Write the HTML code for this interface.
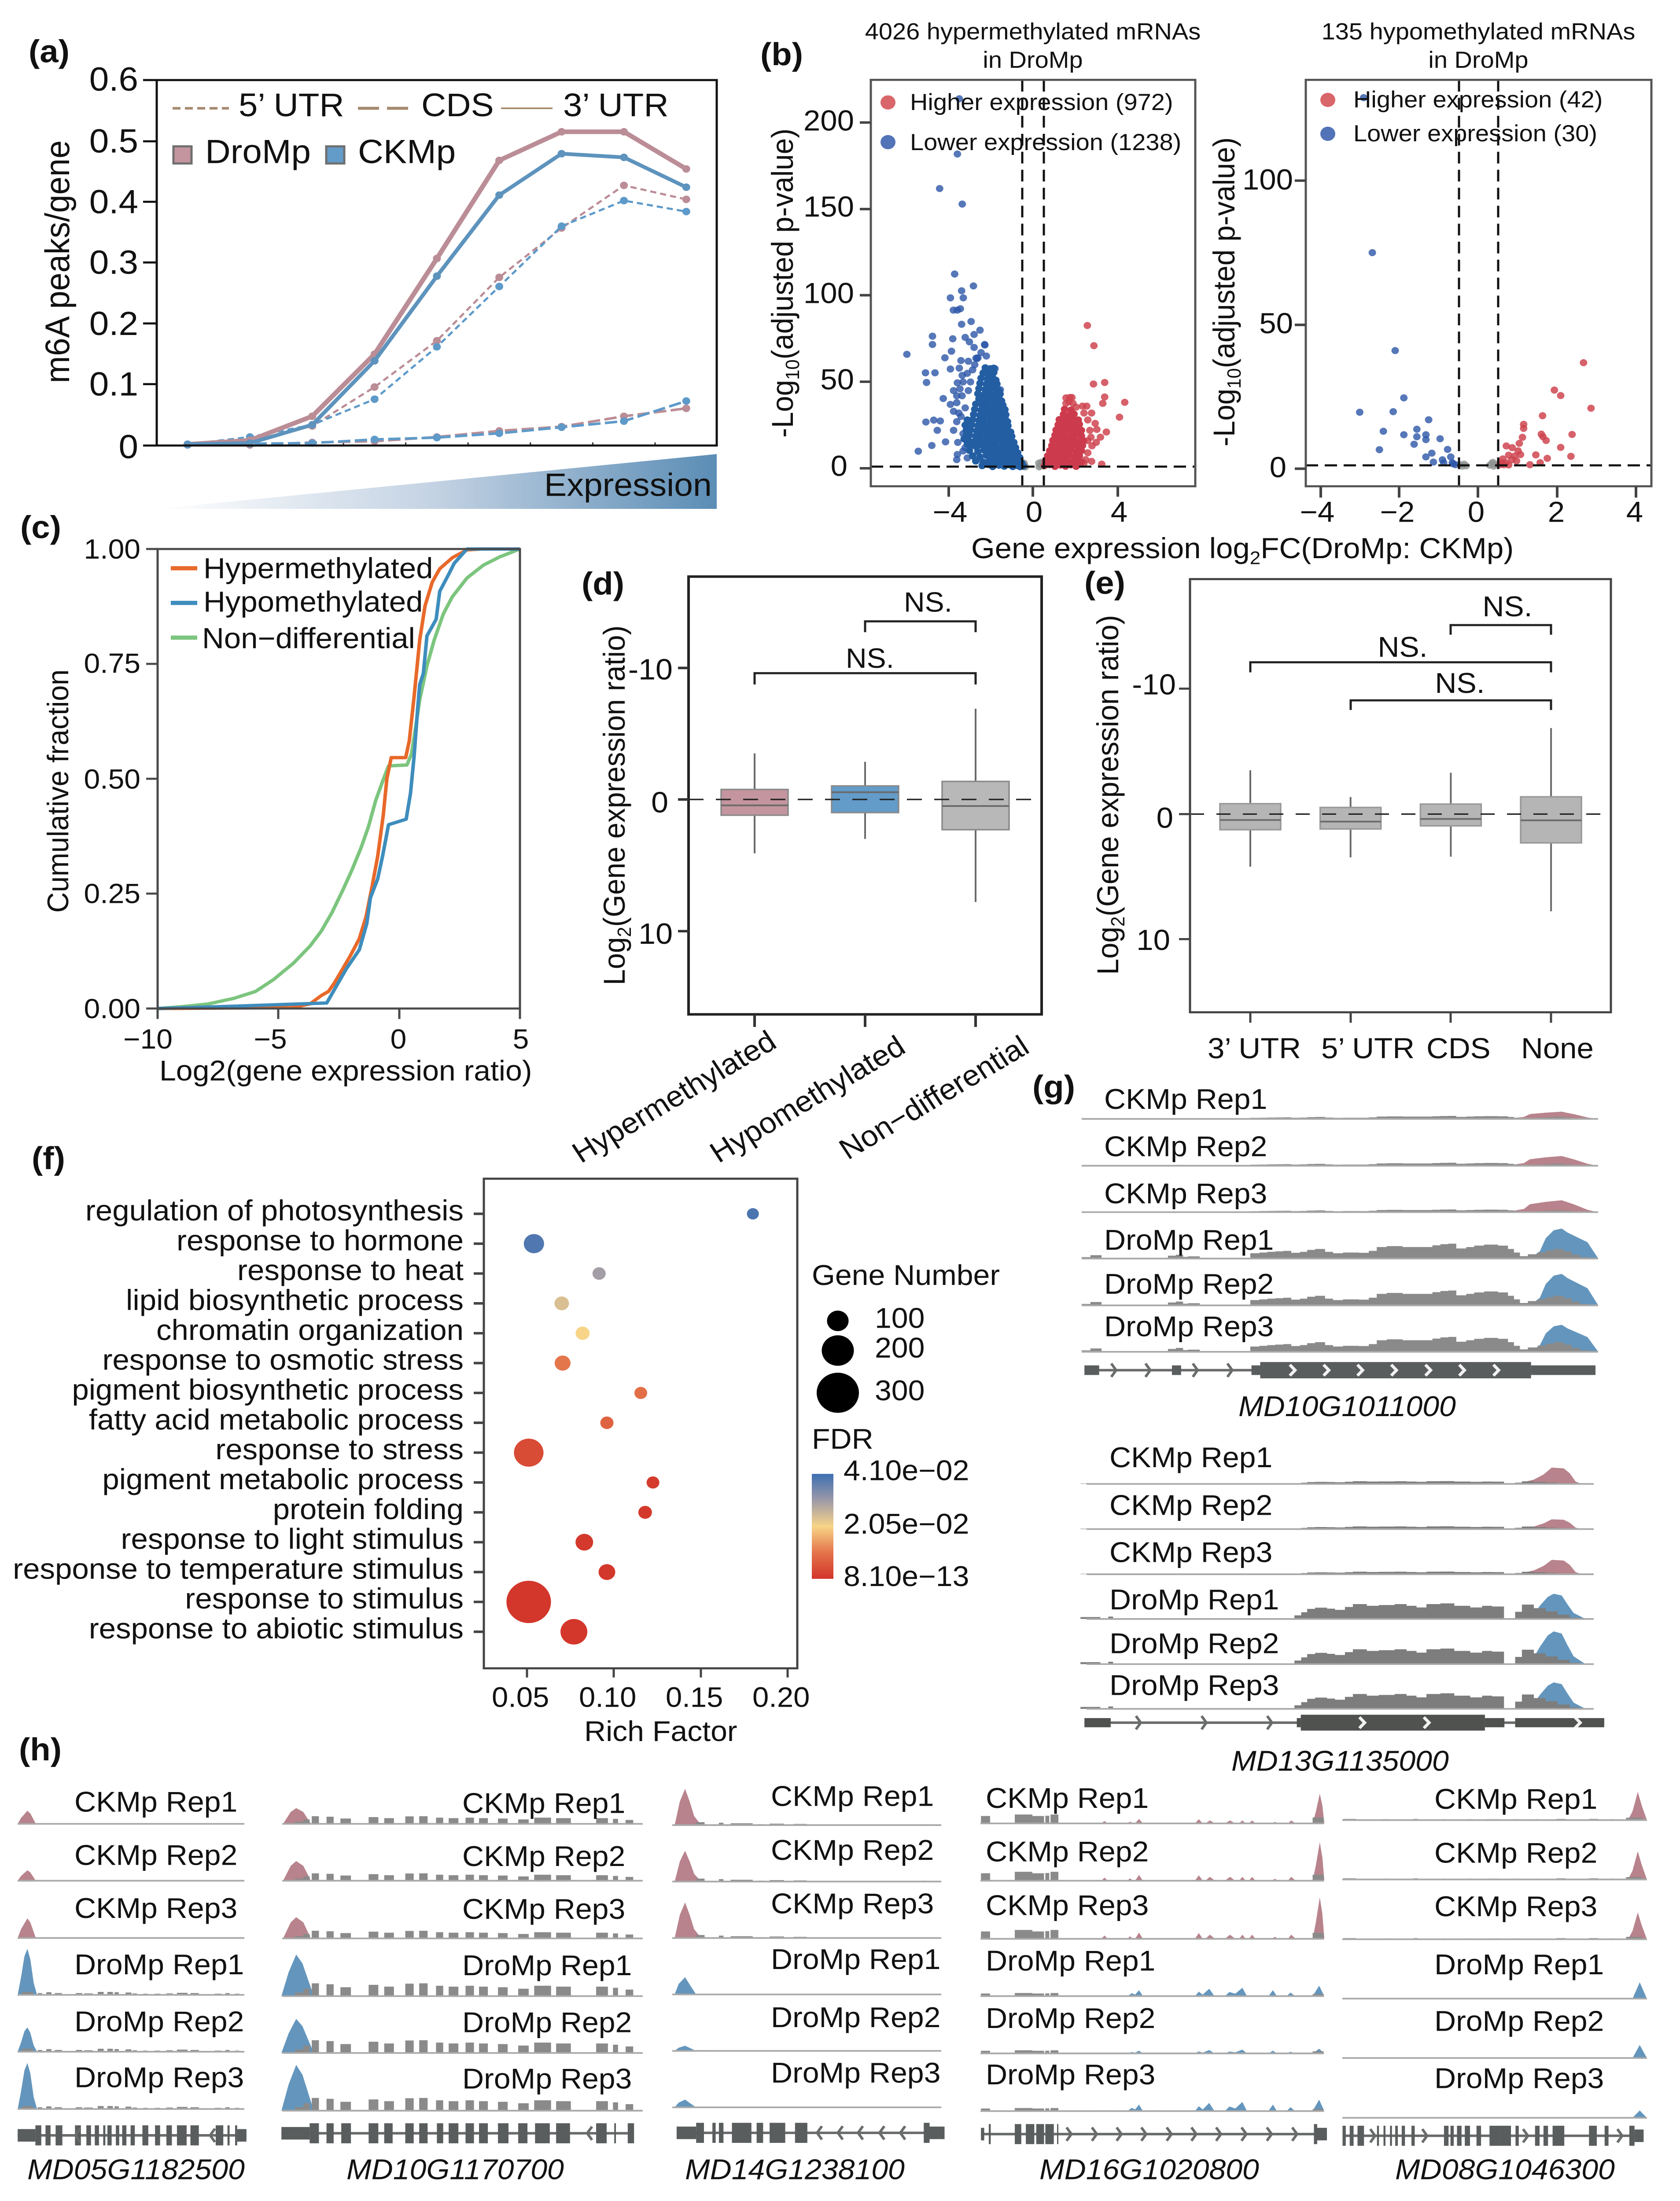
<!DOCTYPE html>
<html lang="en">
<head>
<meta charset="utf-8">
<title>m6A methylation and gene expression figure</title>
<style>
html,body{margin:0;padding:0;background:#fff;width:100%;height:100%;overflow:hidden;}
svg{display:block;position:fixed;left:0;top:0;width:100vw;height:100vh;font-family:"Liberation Sans","Noto Sans CJK SC",sans-serif;fill:#111;}
.l{font-weight:bold;font-size:76px;}
.tk{font-size:69px;}
.tr{font-size:68px;}
.gn{font-size:68px;font-style:italic;}
.nofill{fill:none;}
</style>
</head>
<body>
<svg id="fig" xmlns="http://www.w3.org/2000/svg" viewBox="0 0 3816 5264" preserveAspectRatio="none">
<defs>
<linearGradient id="wedgeGrad" x1="0" x2="1" y1="0" y2="0"><stop offset="0" stop-color="#ffffff"/><stop offset="0.5" stop-color="#c3d2e3"/><stop offset="1" stop-color="#5b8db5"/></linearGradient>
<linearGradient id="fdrGrad" x1="0" x2="0" y1="0" y2="1"><stop offset="0" stop-color="#3d6fb1"/><stop offset="0.25" stop-color="#9c99a8"/><stop offset="0.5" stop-color="#f8d488"/><stop offset="0.75" stop-color="#e4744a"/><stop offset="1" stop-color="#d2352a"/></linearGradient>
</defs>

<!-- PANEL LABELS -->
<text class="l" x="65" y="149">(a)</text>
<text class="l" x="1727" y="156">(b)</text>
<text class="l" x="46" y="1287">(c)</text>
<text class="l" x="1321" y="1422">(d)</text>
<text class="l" x="2463" y="1420">(e)</text>
<text class="l" x="72" y="2796">(f)</text>
<text class="l" x="2345" y="2625">(g)</text>
<text class="l" x="43" y="4210">(h)</text>

<!-- PANEL A -->
<g>
<g id="aMarks"></g>
<rect x="356" y="191.5" width="1272" height="874" class="nofill" stroke="#111" stroke-width="5"/>
<path d="M325 191.5H356M325 338H356M325 482.6H356M325 627.7H356M325 773.6H356M325 918.7H356M325 1065.5H356" stroke="#111" stroke-width="5"/>
<g font-size="80" text-anchor="end">
<text x="314" y="217">0.6</text>
<text x="314" y="365">0.5</text>
<text x="314" y="510">0.4</text>
<text x="314" y="655">0.3</text>
<text x="314" y="801">0.2</text>
<text x="314" y="946">0.1</text>
<text x="314" y="1096">0</text>
</g>
<text font-size="78" text-anchor="middle" transform="translate(157 626) rotate(-90)">m6A peaks/gene</text>
<polygon points="356,1217 1628,1217 1628,1086" fill="url(#wedgeGrad)"/>
<text x="1236" y="1186" font-size="77">Expression</text>
<path d="M392 259H520" stroke="#a58a6e" stroke-width="6" stroke-dasharray="18 10" class="nofill"/>
<text x="542" y="278" font-size="78">5’ UTR</text>
<path d="M813 259H935" stroke="#a58a6e" stroke-width="7" stroke-dasharray="48 18" class="nofill"/>
<text x="957" y="278" font-size="78">CDS</text>
<path d="M1138 259H1255" stroke="#a58a6e" stroke-width="4" class="nofill"/>
<text x="1279" y="278" font-size="78">3’ UTR</text>
<rect x="394" y="350" width="41" height="41" fill="#c4959e" stroke="#6f6f6f" stroke-width="5"/>
<text x="466" y="390" font-size="80">DroMp</text>
<rect x="741" y="350" width="41" height="41" fill="#639bc9" stroke="#6f6f6f" stroke-width="5"/>
<text x="813" y="390" font-size="80">CKMp</text>
</g>

<!-- PANEL B -->
<g>
<g text-anchor="middle" font-size="56">
<text x="2346" y="94">4026 hypermethylated mRNAs</text>
<text x="2346" y="162">in DroMp</text>
<text x="3358" y="94">135 hypomethylated mRNAs</text>
<text x="3358" y="162">in DroMp</text>
</g>
<g id="bLeftMarks"></g>
<g id="bRightMarks"></g>
<g stroke="#111" stroke-width="5" stroke-dasharray="28 15" class="nofill">
<path d="M2322 191V1163"/>
<path d="M2371 191V1163"/>
<path d="M1978 1116H2715"/>
<path d="M3314 191V1163"/>
<path d="M3403 191V1163"/>
<path d="M2966 1113H3751"/>
</g>
<rect x="1978" y="191" width="737" height="972" class="nofill" stroke="#555" stroke-width="5"/>
<rect x="2966" y="191" width="785" height="972" class="nofill" stroke="#555" stroke-width="5"/>
<path d="M1953 293H1978M1953 500H1978M1953 706H1978M1953 913H1978M1953 1120H1978M2155 1163V1188M2346 1163V1188M2539 1163V1188" stroke="#444" stroke-width="6"/>
<path d="M2941 432H2966M2941 777H2966M2941 1121H2966M3000 1163V1190M3178 1163V1190M3357 1163V1190M3537 1163V1190M3716 1163V1190" stroke="#444" stroke-width="6"/>
<g class="tk" text-anchor="end">
<text x="1940" y="312">200</text>
<text x="1940" y="518">150</text>
<text x="1940" y="725">100</text>
<text x="1940" y="931">50</text>
<text x="1925" y="1138">0</text>
</g>
<g class="tk" text-anchor="end">
<text x="2937" y="453">100</text>
<text x="2937" y="797">50</text>
<text x="2922" y="1141">0</text>
</g>
<g class="tk" text-anchor="middle">
<text x="2158" y="1248">−4</text>
<text x="2349" y="1248">0</text>
<text x="2542" y="1248">4</text>
<text x="2992" y="1248">−4</text>
<text x="3174" y="1248">−2</text>
<text x="3353" y="1248">0</text>
<text x="3535" y="1248">2</text>
<text x="3713" y="1248">4</text>
</g>
<text font-size="69" text-anchor="middle" transform="translate(1801 677) rotate(-90)">-Log<tspan font-size="44" dy="14">10</tspan><tspan dy="-14">(adjusted p-value)</tspan></text>
<text font-size="69" text-anchor="middle" transform="translate(2804 698) rotate(-90)">-Log<tspan font-size="44" dy="14">10</tspan><tspan dy="-14">(adjusted p-value)</tspan></text>
<text x="2206" y="1335" font-size="69">Gene expression log<tspan font-size="44" dy="14">2</tspan><tspan dy="-14">FC(DroMp: CKMp)</tspan></text>
<circle cx="2017" cy="245" r="17" fill="#d9666b"/>
<text x="2067" y="263" font-size="56">Higher expression (972)</text>
<circle cx="2017" cy="340" r="17" fill="#5273b7"/>
<text x="2067" y="359" font-size="56">Lower expression (1238)</text>
<circle cx="3016" cy="239" r="17" fill="#d9666b"/>
<text x="3074" y="257" font-size="56">Higher expression (42)</text>
<circle cx="3016" cy="320" r="17" fill="#5273b7"/>
<text x="3074" y="338" font-size="56">Lower expression (30)</text>
</g>

<!-- PANEL C -->
<g>
<g id="cMarks"></g>
<rect x="358" y="1313" width="823" height="1099" class="nofill" stroke="#4a4a4a" stroke-width="5"/>
<path d="M332 1313H358M332 1587.7H358M332 1862.5H358M332 2137.2H358M332 2412H358M358 2412V2437M632 2412V2437M907 2412V2437M1181 2412V2437" stroke="#4a4a4a" stroke-width="5"/>
<g font-size="66" text-anchor="end">
<text x="319" y="1336">1.00</text>
<text x="319" y="1609">0.75</text>
<text x="319" y="1886">0.50</text>
<text x="319" y="2160">0.25</text>
<text x="319" y="2435">0.00</text>
</g>
<g font-size="66" text-anchor="middle">
<text x="336" y="2508">−10</text>
<text x="614" y="2508">−5</text>
<text x="905" y="2508">0</text>
<text x="1183" y="2508">5</text>
</g>
<text x="362" y="2584" font-size="68">Log2(gene expression ratio)</text>
<text font-size="68" text-anchor="middle" transform="translate(155 1892) rotate(-90)">Cumulative fraction</text>
<path d="M388 1359H448" stroke="#e8692a" stroke-width="10"/>
<path d="M388 1442H448" stroke="#3e8dbd" stroke-width="10"/>
<path d="M388 1525H448" stroke="#7cc57e" stroke-width="10"/>
<text x="462" y="1383" font-size="69">Hypermethylated</text>
<text x="462" y="1463" font-size="69">Hypomethylated</text>
<text x="459" y="1550" font-size="69">Non−differential</text>
</g>

<!-- PANEL D -->
<g>
<g id="dMarks"></g>
<path d="M1564 1912H2366" stroke="#222" stroke-width="3.5" stroke-dasharray="34 28" class="nofill"/>
<rect x="1564" y="1379" width="802" height="1047" class="nofill" stroke="#222" stroke-width="6"/>
<path d="M1540 1597.5H1564M1540 1912H1564M1540 2227H1564M1714 2426V2456M1965 2426V2456M2216 2426V2456" stroke="#333" stroke-width="6"/>
<g font-size="70" text-anchor="end">
<text x="1528" y="1625">-10</text>
<text x="1518" y="1943">0</text>
<text x="1528" y="2257">10</text>
</g>
<text font-size="69" text-anchor="middle" transform="translate(1419 1926) rotate(-90)">Log<tspan font-size="44" dy="14">2</tspan><tspan dy="-14">(Gene expression ratio)</tspan></text>
<g fill="none" stroke="#222" stroke-width="5">
<path d="M1714 1637V1610H2216V1637"/>
<path d="M1965 1512V1486H2216V1512"/>
</g>
<text x="1976" y="1597" font-size="66" text-anchor="middle">NS.</text>
<text x="2108" y="1463" font-size="66" text-anchor="middle">NS.</text>
<g font-size="70" text-anchor="end">
<text transform="translate(1768 2503) rotate(-32)">Hypermethylated</text>
<text transform="translate(2061 2515) rotate(-32)">Hypomethylated</text>
<text transform="translate(2342 2515) rotate(-32)">Non−differential</text>
</g>
</g>

<!-- PANEL E -->
<g>
<g id="eMarks"></g>
<path d="M2703 1947H3659" stroke="#222" stroke-width="3.5" stroke-dasharray="32 28" class="nofill"/>
<rect x="2703" y="1385" width="956" height="1036" class="nofill" stroke="#444" stroke-width="5"/>
<path d="M2678 1647H2703M2678 1947H2703M2678 2246H2703M2840 2421V2446M3068 2421V2446M3295 2421V2446M3523 2421V2446" stroke="#444" stroke-width="5"/>
<g font-size="69" text-anchor="end">
<text x="2671" y="1661">-10</text>
<text x="2665" y="1980">0</text>
<text x="2658" y="2272">10</text>
</g>
<text font-size="69" text-anchor="middle" transform="translate(2540 1901) rotate(-90)">Log<tspan font-size="44" dy="14">2</tspan><tspan dy="-14">(Gene expression ratio)</tspan></text>
<g fill="none" stroke="#222" stroke-width="5">
<path d="M2840 1608V1584H3523V1608"/>
<path d="M3068 1698V1675H3523V1698"/>
<path d="M3295 1518V1495H3523V1518"/>
</g>
<text x="3186" y="1571" font-size="68" text-anchor="middle">NS.</text>
<text x="3316" y="1657" font-size="68" text-anchor="middle">NS.</text>
<text x="3424" y="1474" font-size="68" text-anchor="middle">NS.</text>
<g font-size="69">
<text x="2743" y="2531">3’ UTR</text>
<text x="3001" y="2531">5’ UTR</text>
<text x="3240" y="2531">CDS</text>
<text x="3455" y="2531">None</text>
</g>
</g>

<!-- PANEL F -->
<g>
<g id="fMarks"></g>
<rect x="1099" y="2819" width="712" height="1171" class="nofill" stroke="#444" stroke-width="5"/>
<path d="M1197 3990V4012M1394 3990V4012M1592 3990V4012M1789 3990V4012" stroke="#444" stroke-width="5"/>
<g font-size="67">
<text x="1117" y="4082">0.05</text>
<text x="1315" y="4082">0.10</text>
<text x="1512" y="4082">0.15</text>
<text x="1709" y="4082">0.20</text>
</g>
<text x="1327" y="4164" font-size="68">Rich Factor</text>
<text x="1844" y="3073" font-size="68">Gene Number</text>
<circle cx="1903" cy="3159" r="24.5" fill="#000"/>
<circle cx="1903" cy="3230" r="36.5" fill="#000"/>
<circle cx="1903" cy="3331" r="48" fill="#000"/>
<text x="1987" y="3176" font-size="68">100</text>
<text x="1987" y="3247" font-size="68">200</text>
<text x="1987" y="3349" font-size="68">300</text>
<text x="1844" y="3465" font-size="68">FDR</text>
<rect x="1844" y="3525" width="49" height="251" fill="url(#fdrGrad)"/>
<text x="1916" y="3540" font-size="68">4.10e−02</text>
<text x="1916" y="3668" font-size="68">2.05e−02</text>
<text x="1916" y="3793" font-size="68">8.10e−13</text>
</g>

<!-- PANEL G TRACK LABELS -->
<g id="gMarks"></g>
<g class="tr">
<text x="2508" y="2652">CKMp Rep1</text>
<text x="2508" y="2765">CKMp Rep2</text>
<text x="2508" y="2878">CKMp Rep3</text>
<text x="2508" y="2989">DroMp Rep1</text>
<text x="2508" y="3094">DroMp Rep2</text>
<text x="2508" y="3196">DroMp Rep3</text>
<text class="gn" x="2813" y="3387">MD10G1011000</text>
<text x="2520" y="3509">CKMp Rep1</text>
<text x="2520" y="3623">CKMp Rep2</text>
<text x="2520" y="3736">CKMp Rep3</text>
<text x="2520" y="3849">DroMp Rep1</text>
<text x="2520" y="3954">DroMp Rep2</text>
<text x="2520" y="4054">DroMp Rep3</text>
<text class="gn" x="2797" y="4235">MD13G1135000</text>
</g>

<!-- PANEL H TRACK LABELS -->
<g id="hMarks"></g>
<g class="tr">
<text x="169" y="4333">CKMp Rep1</text>
<text x="169" y="4460">CKMp Rep2</text>
<text x="169" y="4587">CKMp Rep3</text>
<text x="169" y="4722">DroMp Rep1</text>
<text x="169" y="4858">DroMp Rep2</text>
<text x="169" y="4992">DroMp Rep3</text>
<text class="gn" x="62" y="5212">MD05G1182500</text>
<text x="1050" y="4336">CKMp Rep1</text>
<text x="1050" y="4463">CKMp Rep2</text>
<text x="1050" y="4589">CKMp Rep3</text>
<text x="1050" y="4724">DroMp Rep1</text>
<text x="1050" y="4860">DroMp Rep2</text>
<text x="1050" y="4995">DroMp Rep3</text>
<text class="gn" x="787" y="5212">MD10G1170700</text>
<text x="1751" y="4319">CKMp Rep1</text>
<text x="1751" y="4448">CKMp Rep2</text>
<text x="1751" y="4576">CKMp Rep3</text>
<text x="1751" y="4709">DroMp Rep1</text>
<text x="1751" y="4848">DroMp Rep2</text>
<text x="1751" y="4981">DroMp Rep3</text>
<text class="gn" x="1556" y="5212">MD14G1238100</text>
<text x="2239" y="4324">CKMp Rep1</text>
<text x="2239" y="4452">CKMp Rep2</text>
<text x="2239" y="4580">CKMp Rep3</text>
<text x="2239" y="4713">DroMp Rep1</text>
<text x="2239" y="4850">DroMp Rep2</text>
<text x="2239" y="4985">DroMp Rep3</text>
<text class="gn" x="2361" y="5212">MD16G1020800</text>
<text x="3258" y="4326">CKMp Rep1</text>
<text x="3258" y="4455">CKMp Rep2</text>
<text x="3258" y="4583">CKMp Rep3</text>
<text x="3258" y="4722">DroMp Rep1</text>
<text x="3258" y="4857">DroMp Rep2</text>
<text x="3258" y="4994">DroMp Rep3</text>
<text class="gn" x="3169" y="5212">MD08G1046300</text>
</g>
</svg>

<script>
/* ===== PANEL A DATA ===== */
const expressionBins = [1,2,3,4,5,6,7,8,9];
const droUtr3 = [.002,.0085,.048,.15,.307,.468,.515,.515,.454];
const ckUtr3  = [.002,.004,.034,.139,.278,.411,.479,.473,.424];
const droUtr5 = [.002,.007,.032,.096,.172,.276,.357,.427,.404];
const ckUtr5  = [.002,.014,.034,.076,.162,.261,.36,.402,.384];
const droCds  = [.001,.001,.005,.007,.014,.024,.031,.048,.061];
const ckCds   = [.001,.003,.004,.01,.013,.02,.03,.04,.073];

/* ===== PANEL B DATA ([log2FC, -log10 p]) ===== */
const hyperLowerSparse = [[-3.48,214],[-3.57,182],[-4.41,162],[-3.34,153],[-3.7,112.5],[-2.81,105.6],[-3.37,102.8],[-3.9,98.7],[-3.29,98.7],[-3.76,91.6],[-3.57,91.6],[-3.43,92.4],[-2.92,85],[-3.37,83.4],[-2.5,80],[-2.78,77.5],[-4.75,76.5],[-4.75,71.7],[-3.79,75],[-3.2,75.8],[-3,73.2],[-2.28,71.7],[-2.78,70],[-3.85,67.8],[-5.96,66],[-4.16,64],[-3.4,62.4],[-2.64,63.5],[-3.9,57.5],[-3.48,58],[-5.08,55.3],[-4.63,55.3],[-5.03,49.7],[-3.57,49.5],[-3.34,53.8],[-4.24,40.4],[-3.9,37],[-3.6,42],[-5.06,26.8],[-4.69,27.9],[-4.38,27.4],[-4.52,22],[-4.13,15.3],[-4.78,13.2],[-5.42,9.9],[-3.57,8],[-3.3,10],[-3.6,5],[-3.4,30],[-3.6,27],[-3.75,22],[-3.3,20],[-3.55,15],[-3.2,12],[-3.75,33],[-3.1,6],[-3.5,32],[-3.6,38],[-3.35,42],[-3.2,35],[-3.05,45],[-2.95,50],[-3.1,55],[-2.85,57],[-2.75,60],[-2.6,64],[-3.05,62],[-3.45,46],[-3.75,45],[-3.3,50],[-2.45,67],[-2.2,65],[-1.75,47],[-1.54,45.5],[-1.79,57.7],[-2.69,63.8],[-2.27,71.4],[-1.6,40]];
const hyperLowerDense = [[-2.4,1.5],[-2.1,2.2],[-1.9,1],[-1.6,1.8],[-1.35,1.2],[-1.15,2.1],[-.95,1],[-.75,1.6],[-.6,.9],[-.45,1.3],[-2.7,4.2],[-2.35,3.6],[-2.05,4.4],[-1.8,3.8],[-1.55,4.5],[-1.3,3.7],[-1.05,4.3],[-.85,3.5],[-.65,4],[-.52,3],[-2.85,7.2],[-2.5,6.6],[-2.2,7.5],[-1.95,6.9],[-1.7,7.4],[-1.45,6.7],[-1.2,7.2],[-1,6.5],[-.8,7],[-.62,6.2],[-3,10.3],[-2.6,9.7],[-2.3,10.5],[-2.05,9.8],[-1.8,10.4],[-1.55,9.6],[-1.3,10.2],[-1.1,9.7],[-.9,10.1],[-.72,9],[-2.95,13.2],[-2.7,12.7],[-2.45,13.5],[-2.2,12.8],[-1.95,13.4],[-1.7,12.6],[-1.45,13.3],[-1.2,12.8],[-1,13.1],[-.82,12],[-3.05,16.2],[-2.75,15.7],[-2.5,16.5],[-2.25,15.8],[-2,16.4],[-1.75,15.6],[-1.5,16.3],[-1.25,15.8],[-1.05,16.1],[-.9,15],[-3,19.2],[-2.7,18.7],[-2.45,19.5],[-2.2,18.8],[-1.95,19.4],[-1.7,18.6],[-1.45,19.3],[-1.2,18.8],[-1,18.5],[-2.95,22.2],[-2.65,21.7],[-2.4,22.5],[-2.15,21.8],[-1.9,22.4],[-1.65,21.6],[-1.4,22.3],[-1.2,21.8],[-1.05,21],[-2.9,25.2],[-2.6,24.7],[-2.35,25.5],[-2.1,24.8],[-1.85,25.4],[-1.6,24.6],[-1.35,25.3],[-1.18,24.6],[-2.85,28.2],[-2.55,27.7],[-2.3,28.5],[-2.05,27.8],[-1.8,28.4],[-1.55,27.6],[-1.3,28.3],[-1.2,27],[-2.8,31.2],[-2.5,30.7],[-2.25,31.5],[-2,30.8],[-1.75,31.4],[-1.5,30.6],[-1.28,31],[-2.75,34.2],[-2.45,33.7],[-2.2,34.5],[-1.95,33.8],[-1.7,34.4],[-1.45,33.6],[-1.32,34],[-2.7,37.2],[-2.4,36.7],[-2.15,37.5],[-1.9,36.8],[-1.65,37.4],[-1.42,36.6],[-2.55,40.2],[-2.35,39.7],[-2.1,40.5],[-1.85,39.8],[-1.6,40.4],[-1.48,39],[-2.6,43.2],[-2.3,42.7],[-2.05,43.5],[-1.8,42.8],[-1.55,43],[-2.55,46.2],[-2.25,45.7],[-2,46.5],[-1.75,45.8],[-1.6,45],[-2.5,49.2],[-2.2,48.7],[-1.95,49.5],[-1.7,48.8],[-2.45,52.2],[-2.15,51.7],[-1.9,52.5],[-1.75,51],[-2.35,55.2],[-2.1,54.7],[-1.85,55.5],[-2.25,58.2],[-2,57.7],[-1.85,58],[-3.2,25],[-3.15,22],[-3.1,28],[-3.25,17],[-3.1,14],[-3.15,19]];
const hyperHigherSparse = [[2.58,82.7],[2.89,71],[2.87,48.8],[3.4,49.7],[3.4,41.3],[3.31,37.6],[4.35,38.2],[4.1,29.6],[3.48,21],[3.03,22.5],[2.95,26],[2.78,32],[2.42,32],[1.85,41],[1.71,38.6],[1.57,37.6],[1.9,37.6],[1.57,40.8],[2.05,35.4],[1.75,41],[3.26,2.4],[2.78,4],[2.42,3],[2.6,28],[2.7,22],[2.6,16],[2.8,13],[2.6,9],[2.5,5],[2.75,18],[3,15],[3.2,18],[2.35,36],[2.55,36]];
const hyperHigherDense = [[.55,1.5],[.8,2.1],[1.05,1.1],[1.3,1.9],[1.55,1.2],[1.8,2],[2.05,1.1],[.6,4.2],[.85,3.7],[1.1,4.4],[1.35,3.8],[1.6,4.5],[1.85,3.7],[2.1,4.2],[2.3,3.6],[.7,7.2],[.95,6.7],[1.2,7.4],[1.45,6.8],[1.7,7.5],[1.95,6.7],[2.2,7.2],[.8,10.2],[1.05,9.7],[1.3,10.4],[1.55,9.8],[1.8,10.5],[2.05,9.7],[2.3,10.2],[.9,13.2],[1.15,12.7],[1.4,13.4],[1.65,12.8],[1.9,13.5],[2.15,12.7],[2.35,13.2],[.95,16.2],[1.2,15.7],[1.45,16.4],[1.7,15.8],[1.95,16.5],[2.2,15.7],[2.4,16],[1.05,19.2],[1.3,18.7],[1.55,19.4],[1.8,18.8],[2.05,19.5],[2.3,18.7],[1.1,22.2],[1.35,21.7],[1.6,22.4],[1.85,21.8],[2.1,22.5],[2.3,22],[1.2,25.2],[1.45,24.7],[1.7,25.4],[1.95,24.8],[2.2,25.5],[1.25,28.2],[1.5,27.7],[1.75,28.4],[2,27.8],[2.15,28],[1.45,31.2],[1.7,30.7],[1.95,31.4],[1.5,34.2],[1.8,33.7]];
const hyperNeutral = [[-.45,1],[-.4,2],[-.35,.8],[-.42,3],[.3,.8],[.35,2],[.42,1.4],[.28,3],[.4,3.5]];
const hypoLower = [[-2.68,75],[-2.1,41],[-1.88,24.6],[-3,19.6],[-2.15,19.8],[-1.25,17],[-2.4,13],[-1.55,13.7],[-1.88,11.8],[-1.55,11.1],[-1.32,11.8],[-1.32,10.1],[-.96,10.4],[-1.62,8.5],[-2.5,6.6],[-.77,6.7],[-1.17,5.4],[-1.32,4.1],[-.69,4.1],[-1.13,2.3],[-.9,3.1],[-.87,2.1],[-.65,2.1],[-.57,1.4],[-.63,1.7],[-2.9,128.8]];
const hypoHigher = [[2.68,36.8],[1.94,27.3],[2.1,25.4],[2.87,21],[1.64,18.4],[1.16,15.4],[1.16,14],[2.39,11.9],[1.61,12],[1.65,11.1],[1.73,9.8],[1.13,10.9],[1.05,8.8],[.72,7.9],[2.1,7.4],[.87,7.3],[1.02,6.2],[1.08,4.9],[1.47,4.8],[1.76,3.6],[2.36,4.3],[1.58,2.1],[1.32,1.4],[.98,2.7],[.78,4.7],[.63,3.4],[.71,2.1],[.78,1.3],[.6,2.1],[.66,1.4],[.86,3.1],[.56,1.4],[.93,4.4]];
const hypoNeutral = [[-.45,1.4],[-.4,.9],[-.35,1.6],[-.3,1],[.3,1.2],[.35,1.8],[.4,.9],[.45,1.5],[.38,2.2]];

/* ===== PANEL C DATA ([ratio, fraction]) ===== */
const cdfNonDifferential = [[-10,0],[-9,.004],[-7.9,.01],[-6.85,.022],[-5.95,.037],[-5.2,.063],[-4.37,.099],[-3.69,.136],[-3.23,.168],[-2.78,.209],[-2.33,.258],[-1.95,.302],[-1.57,.351],[-1.27,.396],[-.97,.453],[-.66,.498],[-.44,.528],[.32,.53],[.51,.554],[.69,.615],[.85,.672],[1.15,.746],[1.45,.802],[1.83,.859],[2.2,.896],[2.81,.937],[3.49,.965],[4.17,.983],[5,1]];
const cdfHyper = [[-10,0],[-4.44,.002],[-3.69,.01],[-3.23,.028],[-2.93,.037],[-2.7,.054],[-2.33,.087],[-2.02,.115],[-1.65,.152],[-1.37,.2],[-1.12,.266],[-.89,.331],[-.66,.42],[-.51,.5],[-.33,.546],[.27,.546],[.42,.583],[.62,.68],[.85,.802],[1.07,.876],[1.37,.928],[1.68,.957],[2.2,.981],[2.81,.998],[3.41,1],[5,1]];
const cdfHypo = [[-10,0],[-7.46,.004],[-3,.012],[-2.63,.046],[-2.18,.087],[-1.65,.128],[-1.34,.185],[-1.19,.241],[-.89,.282],[-.69,.331],[-.44,.4],[.29,.412],[.47,.469],[.62,.55],[.77,.656],[.85,.705],[1,.729],[1.15,.811],[1.53,.847],[1.68,.908],[2.05,.945],[2.28,.969],[2.81,1],[5,1]];

/* ===== PANEL D / E DATA ===== */
const dWhiskerTop = [-3.5,-2.86,-6.9];
const dBoxTop     = [-.76,-1.03,-1.37];
const dMedian     = [.45,-.55,.5];
const dBoxBottom  = [1.2,1,2.3];
const dWhiskerBot = [4.1,3,7.8];
const eWhiskerTop = [-3.5,-1.36,-3.3,-6.87];
const eBoxTop     = [-.83,-.53,-.8,-1.38];
const eMedian     = [.47,.6,.39,.5];
const eBoxBottom  = [1.25,1.19,.94,2.3];
const eWhiskerBot = [4.2,3.46,3.4,7.76];

/* ===== PANEL F DATA ===== */
const goTerms = ['regulation of photosynthesis','response to hormone','response to heat','lipid biosynthetic process','chromatin organization','response to osmotic stress','pigment biosynthetic process','fatty acid metabolic process','response to stress','pigment metabolic process','protein folding','response to light stimulus','response to temperature stimulus','response to stimulus','response to abiotic stimulus'];
const richFactor = [.180,.054,.0915,.070,.082,.0705,.1155,.096,.051,.1225,.118,.083,.096,.051,.077];
const geneNumber = [5,85,17,30,25,43,13,17,175,13,21,60,51,320,149];
const fdrValue = [.0395,.039,.030,.024,.0205,.0105,.0095,.0075,.0035,.001,.0008,.0006,.0005,.0003,.0004];

/* ===== GENE TRACK DATA (genome position units, coverage units) ===== */
const g1Input = [[63,85,6],[85,113,14],[280,300,12],[300,318,16],[318,330,7],[330,360,9],[360,380,3],[487,510,22],[510,530,25],[530,550,28],[550,570,30],[570,590,32],[590,612,24],[612,630,28],[630,650,36],[650,675,40],[675,695,28],[695,720,22],[720,760,25],[760,785,24],[785,805,32],[805,830,48],[830,870,52],[870,910,48],[910,945,48],[945,965,55],[965,985,60],[985,1005,62],[1005,1030,42],[1030,1050,48],[1050,1075,54],[1075,1110,58],[1110,1135,54],[1135,1150,40],[1150,1165,25],[1165,1185,10],[1185,1210,18],[1210,1230,26],[1230,1250,34],[1250,1275,40],[1275,1295,30],[1295,1315,16],[1315,1340,6]];
const g1CkPeak = [[1130,0],[1175,8],[1190,20],[1230,26],[1270,30],[1300,20],[1335,6],[1360,0]];
const g1DroPeak = [[1165,0],[1200,12],[1215,30],[1230,85],[1250,118],[1270,125],[1285,108],[1310,88],[1335,68],[1350,30],[1362,0]];
const g1InputScale = [.2,.2,.18,1,1,1];
const g1PeakScale = [1,1.35,1.65,1,1.05,.9];
const g1Utr = [[70,107],[290,313],[490,512],[1193,1355]];
const g1Cds = [[512,1193]];
const g1Arrows = [143,229,348,435];
const g1Chevrons = [593,678,763,848,934,1019,1105];

const g2Input = [[60,110,8],[130,142,10],[598,615,15],[615,630,28],[630,650,42],[650,680,47],[680,700,43],[700,725,38],[725,745,50],[745,780,62],[780,810,55],[810,850,58],[850,880,62],[880,905,55],[905,930,48],[930,965,62],[965,1000,65],[1000,1040,55],[1040,1070,48],[1070,1095,55],[1095,1125,52],[1153,1170,30],[1170,1200,60],[1200,1230,45],[1230,1260,32],[1260,1290,18],[1290,1315,6]];
const g2CkPeak = [[1155,0],[1200,18],[1225,40],[1245,68],[1275,65],[1290,45],[1305,10],[1320,0]];
const g2DroPeak = [[1190,0],[1215,55],[1235,92],[1250,105],[1270,98],[1285,60],[1300,25],[1330,0]];
const g2InputScale = [.18,.18,.17,1,1,1];
const g2PeakScale = [1,.6,.88,1,1.3,1.05];
const g2Utr = [[70,136],[604,614],[1077,1126],[1153,1377]];
const g2Cds = [[614,1077]];
const g2Arrows = [205,370,535];
const g2Chevrons = [768,930,1310];

const h1Input = [[52,78,10],[90,100,6],[110,122,9],[130,147,6],[180,195,6],[200,220,5],[232,246,10],[255,268,10],[272,282,9],[298,312,8],[315,325,5],[340,350,4],[368,380,4],[395,410,5],[420,445,7],[452,472,6],[510,525,4],[535,545,6],[558,568,4]];
const h1CkPeak = [[42,0],[50,20],[65,44],[72,35],[85,0]];
const h1DroPeak = [[42,0],[50,60],[58,130],[65,155],[72,120],[80,40],[88,0]];
const h1InputScale = [.12,.12,.12,1,1,1];
const h1PeakScale = [1,.8,1.5,1,.53,1];
const h1Utr = [[42,84],[563,585]];
const h1Cds = [[84,98],[108,120],[132,148],[178,192],[205,216],[225,235],[245,250],[255,265],[275,283],[290,300],[310,320],[338,352],[368,380],[395,408],[420,443],[452,472],[512,530],[540,545],[558,563]];
const h1Arrows = [185,505];

const h2Input = [[700,720,12],[720,735,25],[740,757,43],[775,792,40],[808,833,30],[875,898,38],[912,935,32],[962,982,42],[995,1015,43],[1035,1052,35],[1065,1088,32],[1105,1125,35],[1137,1158,32],[1182,1205,30],[1230,1255,25],[1268,1308,35],[1320,1355,32],[1415,1443,32],[1455,1467,28],[1485,1503,22]];
const h2CkPeak = [[672,0],[690,40],[703,53],[720,40],[738,0]];
const h2DroPeak = [[668,0],[685,80],[703,140],[718,110],[735,40],[745,0]];
const h2InputScale = [.6,.58,.6,1,1,1];
const h2PeakScale = [1,1.25,1.35,1,.82,1.1];
const h2Utr = [[668,735]];
const h2Cds = [[735,757],[775,792],[810,833],[875,898],[912,932],[962,982],[995,1015],[1037,1052],[1065,1088],[1105,1125],[1137,1158],[1182,1207],[1230,1252],[1270,1305],[1320,1353],[1415,1440],[1458,1462],[1490,1505]];
const h2Arrows = [1400];

const h3Input = [[55,68,10],[90,97,8],[108,142,6],[150,158,3],[168,190,5],[205,225,4],[405,408,3]];
const h3CkPeak = [[22,0],[30,80],[38,122],[45,80],[52,30],[60,8],[65,0]];
const h3DroPeak = [[22,0],[28,35],[38,58],[46,30],[55,0]];
const h3InputScale = [1,1,1,.25,.25,.25];
const h3PeakScale = [1,.85,.98,1,.3,.45];
const h3Utr = [[25,55],[414,437]];
const h3Cds = [[55,67],[80,85],[90,97],[110,140],[148,158],[168,192],[207,226],[405,414]];
const h3Arrows = [245,277,308,341,373];

const h4Input = [[493,507,25],[545,555,30],[555,572,30],[572,590,25],[592,598,26],[600,612,30],[1003,1020,20]];
const h4CkPeak = [[678,0],[683,8],[688,0],[718,0],[722,6],[727,0],[730,0],[736,15],[742,0],[822,0],[828,14],[834,0],[838,0],[845,10],[853,0],[868,0],[876,10],[884,0],[890,0],[895,10],[900,0],[905,0],[910,10],[915,0],[940,0],[945,5],[950,0],[965,0],[970,10],[977,0],[1003,0],[1008,40],[1014,100],[1018,60],[1021,0]];
const h4DroPeak = [[678,0],[683,3],[688,0],[718,0],[725,10],[730,5],[736,20],[742,0],[758,0],[763,3],[768,0],[822,0],[828,15],[834,5],[844,25],[852,0],[868,0],[875,14],[884,8],[895,28],[902,0],[935,0],[942,20],[948,0],[963,0],[969,12],[976,0],[985,0],[990,3],[995,0],[1003,0],[1013,35],[1021,0]];
const h4InputScale = [1,1,1,.35,.35,.35];
const h4PeakScale = [1,1.3,1.4,1,.45,1.1];
const h4Utr = [[1007,1025],[493,498]];
const h4Cds = [[505,508],[545,555],[562,575],[578,590],[592,605],[610,612],[1005,1010]];
const h4Arrows = [628,667,705,743,782,820,858,897,936,975];

const h5Input = [[1050,1070,4],[1110,1122,3],[1158,1165,4],[1203,1207,3],[1240,1250,3],[1270,1290,3],[1310,1320,3],[1345,1350,3],[1378,1392,4],[1428,1442,4],[1460,1465,3],[1485,1510,8]];
const h5CkPeak = [[1488,0],[1495,30],[1503,95],[1509,50],[1517,0]];
const h5DroPeak = [[1495,0],[1500,25],[1506,55],[1511,30],[1517,0]];
const h5InputScale = [1,1,1,.3,.3,.3];
const h5PeakScale = [1,1,.95,1,.8,.45];
const h5Utr = [[1498,1512]];
const h5Cds = [[1049,1054],[1060,1066],[1072,1082],[1102,1105],[1112,1115],[1122,1125],[1130,1134],[1140,1145],[1155,1160],[1205,1212],[1215,1220],[1225,1232],[1237,1245],[1255,1262],[1275,1290],[1290,1308],[1315,1320],[1345,1352],[1358,1365],[1372,1390],[1428,1440],[1452,1458],[1490,1498]];
const h5Arrows = [1095,1175,1330,1475];

/* ===== DRAWING ===== */
const NS = 'http://www.w3.org/2000/svg';
function mk(parent, tag, attrs, text){
  const node = document.createElementNS(NS, tag);
  for (const k in attrs) node.setAttribute(k, attrs[k]);
  if (text !== undefined) node.textContent = text;
  parent.appendChild(node);
  return node;
}
const byId = id => document.getElementById(id);

/* Panel A */
const xA = b => 426 + (b - 1) * 141.6;
const yA = v => 1065.5 - v * 1457;
const aSeries = [droCds, ckCds, droUtr5, ckUtr5, droUtr3, ckUtr3];
const aColors = ['#bb8d96','#5d9ac9','#bb8d96','#5d9ac9','#bb8d96','#5d93bd'];
const aWidths = [6,6,5,5,11,9];
const aDashes = ['28 10','28 10','14 9','14 9','none','none'];
const aRadii = [9,9,9,9,9,9];
for (let k = 0; k < 8; k++) {
  const minor = mk(byId('aMarks'), 'path', {d:`M${xA(k + 1.5)} 1065V1058`, stroke:'#333', 'stroke-width':3});
  
  
}
aSeries.forEach((vals, s) => {
  const pts = vals.map((v, i) => `${xA(expressionBins[i])},${yA(v)}`).join(' ');
  const line = mk(byId('aMarks'), 'polyline', {points:pts, fill:'none', stroke:aColors[s], 'stroke-width':aWidths[s], 'stroke-dasharray':aDashes[s], 'stroke-linejoin':'round'});
  
  
  vals.forEach((v, i) => {
    const dot = mk(byId('aMarks'), 'circle', {cx:xA(expressionBins[i]), cy:yA(v), r:aRadii[s], fill:aColors[s]});
    
    
  });
});

/* Panel B */
const xBL = v => 2346 + 48 * v;
const yBL = v => 1120 - 4.13 * v;
const xBR = v => 3357 + 89.5 * v;
const yBR = v => 1121 - 6.89 * v;
function volcano(host, pts, xf, yf, fill, op){
  pts.forEach(p => {
    const dot = mk(host, 'circle', {cx:xf(p[0]), cy:yf(p[1]), r:8.5, fill:fill, 'fill-opacity':op});
    
    
  });
}
volcano(byId('bLeftMarks'), hyperNeutral, xBL, yBL, '#8f9492', .8);
volcano(byId('bLeftMarks'), hyperLowerSparse, xBL, yBL, '#2c56a8', .8);
volcano(byId('bLeftMarks'), hyperLowerDense, xBL, yBL, '#235ea3', 1);
volcano(byId('bLeftMarks'), hyperHigherSparse, xBL, yBL, '#cf4550', .85);
volcano(byId('bLeftMarks'), hyperHigherDense, xBL, yBL, '#cc3b4d', 1);
volcano(byId('bRightMarks'), hypoNeutral, xBR, yBR, '#8f9492', .8);
volcano(byId('bRightMarks'), hypoLower, xBR, yBR, '#2c56a8', .8);
volcano(byId('bRightMarks'), hypoHigher, xBR, yBR, '#cf4550', .85);

/* Panel C */
const xC = v => 358 + (v + 10) * 54.87;
const yC = v => 2412 - v * 1099;
const cSeries = [cdfNonDifferential, cdfHyper, cdfHypo];
const cColors = ['#7cc57e','#e8692a','#3e8dbd'];
cSeries.forEach((pts, s) => {
  const curve = mk(byId('cMarks'), 'polyline', {points:pts.map(p => `${xC(p[0])},${yC(p[1])}`).join(' '), fill:'none', stroke:cColors[s], 'stroke-width':8, 'stroke-linejoin':'round'});
  
  
});

/* Panels D + E */
function boxes(host, xf, yf, halfW, wt, bt, med, bb, wb, fills, strokeCol){
  med.forEach((m, i) => {
    const cx = xf(i);
    const whisker = mk(host, 'path', {d:`M${cx} ${yf(wt[i])}V${yf(wb[i])}`, stroke:'#6a6a6a', 'stroke-width':4});
    
    
    const box = mk(host, 'rect', {x:cx - halfW, y:yf(bt[i]), width:halfW * 2, height:yf(bb[i]) - yf(bt[i]), fill:fills[i], stroke:strokeCol, 'stroke-width':3.5});
    
    
    const medLine = mk(host, 'path', {d:`M${cx - halfW} ${yf(m)}H${cx + halfW}`, stroke:'#6a6a6a', 'stroke-width':4});
    
    
  });
}
const xD = i => 1714 + 251 * i;
const yD = v => 1912 + v * 31.45;
boxes(byId('dMarks'), xD, yD, 76, dWhiskerTop, dBoxTop, dMedian, dBoxBottom, dWhiskerBot, ['#c4959e','#639bc9','#b8b8b8'], '#8a8a8a');
const xE = i => 2840 + 227.7 * i;
const yE = v => 1947 + v * 29.95;
boxes(byId('eMarks'), xE, yE, 69, eWhiskerTop, eBoxTop, eMedian, eBoxBottom, eWhiskerBot, ['#b5b5b5','#b5b5b5','#b5b5b5','#b5b5b5'], '#999');

/* Panel F */
const xF = v => 1197 + (v - .05) * 3947;
const yF = i => 2903 + i * 71.4;
const diaF = n => 26 + .235 * n;
const fdrStops = [[210,53,42],[228,116,74],[248,212,136],[156,153,168],[61,111,177]];
function fdrColor(v){
  const t = Math.min(1, v / .041) * 4;
  const k = Math.min(3, Math.floor(t));
  const f = t - k;
  const c = [0,1,2].map(j => Math.round(fdrStops[k][j] + (fdrStops[k + 1][j] - fdrStops[k][j]) * f));
  return `rgb(${c.join(',')})`;
}
goTerms.forEach((term, i) => {
  const label = mk(byId('fMarks'), 'text', {x:1053, y:yF(i) + 16, 'text-anchor':'end', 'font-size':69}, term);
  
  
  const tick = mk(byId('fMarks'), 'path', {d:`M1076 ${yF(i)}H1099`, stroke:'#444', 'stroke-width':6});
  
  
  const bubble = mk(byId('fMarks'), 'circle', {cx:xF(richFactor[i]), cy:yF(i), r:diaF(geneNumber[i]) / 2, fill:fdrColor(fdrValue[i])});
  
  
});

/* Gene tracks */
function drawTracks(host, xf, yUnit, baselines, xa, xb, input, inputScale, ckPeak, droPeak, peakScale, greyFill){
  baselines.forEach((base, r) => {
    const peak = r < 3 ? ckPeak : droPeak;
    const peakPoints = peak.map(p => `${xf(p[0])},${base - p[1] * peakScale[r] * yUnit}`).join(' ');
    const peakEl = mk(host, 'polygon', {points:peakPoints, fill:r < 3 ? '#b8838c' : '#6496bd'});
    
    
    const d = input.map(b => `M${xf(b[0])} ${base}V${base - b[2] * inputScale[r] * yUnit}H${xf(b[1])}V${base}Z`).join('');
    const inputEl = mk(host, 'path', {d:d, fill:greyFill});
    
    
    const line = mk(host, 'path', {d:`M${xa} ${base}H${xb}`, stroke:'#a9a9a9', 'stroke-width':4});
    
    
  });
}
function drawGene(host, xf, yc, utr, cds, arrows, chevrons, hU, hC, dirs, col){
  const all = utr.concat(cds);
  const lo = Math.min(...all.map(e => e[0]));
  const hi = Math.max(...all.map(e => e[1]));
  const intron = mk(host, 'path', {d:`M${xf(lo)} ${yc}H${xf(hi)}`, stroke:'#6a6c6c', 'stroke-width':6});
  
  
  utr.forEach(e => {
    const exon = mk(host, 'rect', {x:xf(e[0]), y:yc - hU / 2, width:xf(e[1]) - xf(e[0]), height:hU, fill:col});
    
    
  });
  cds.forEach(e => {
    const exon = mk(host, 'rect', {x:xf(e[0]), y:yc - hC / 2, width:xf(e[1]) - xf(e[0]), height:hC, fill:col});
    
    
  });
  arrows.forEach(a => {
    const arrow = mk(host, 'path', {d:`M${xf(a) - 5 * dirs} ${yc - 16}L${xf(a) + 6 * dirs} ${yc}L${xf(a) - 5 * dirs} ${yc + 16}`, fill:'none', stroke:'#6a6c6c', 'stroke-width':6});
    
    
  });
  chevrons.forEach(a => {
    const chev = mk(host, 'path', {d:`M${xf(a) - 6} ${yc - 13}L${xf(a) + 6} ${yc}L${xf(a) - 6} ${yc + 13}`, fill:'none', stroke:'#f2f2f2', 'stroke-width':7});
    
    
  });
}
const xG = z => 2400 + z / 1.107;
const xH1 = z => z / 1.045;
const xH2 = z => 1500 + z / .677;
const GY = 1 / 1.742;
const HY = 1 / 1.4075;
drawTracks(byId('gMarks'), xG, GY, [2676,2788,2899,3010,3122,3233], 2457, 3630, g1Input, g1InputScale, g1CkPeak, g1DroPeak, g1PeakScale, '#8a8a8a');
drawGene(byId('gMarks'), xG, 3277, g1Utr, g1Cds, g1Arrows, g1Chevrons, 23, 39, 1, '#5a5d5e');
drawTracks(byId('gMarks'), xG, GY, [3549,3657,3765,3872,3980,4087], 2468, 3620, g2Input, g2InputScale, g2CkPeak, g2DroPeak, g2PeakScale, '#7d7d7d');
drawGene(byId('gMarks'), xG, 4120, g2Utr, g2Cds, g2Arrows, g2Chevrons, 22, 38, 1, '#50524f');
drawTracks(byId('hMarks'), xH1, HY, [4362,4498,4635,4771,4907,5044], 40, 555, h1Input, h1InputScale, h1CkPeak, h1DroPeak, h1PeakScale, '#8a8a8a');
drawGene(byId('hMarks'), xH1, 5107, h1Utr, h1Cds, h1Arrows, [], 30, 48, -1, '#5a5d5e');
drawTracks(byId('hMarks'), xH1, HY, [4362,4498,4636,4774,4910,5048], 641, 1460, h2Input, h2InputScale, h2CkPeak, h2DroPeak, h2PeakScale, '#8a8a8a');
drawGene(byId('hMarks'), xH1, 5102, h2Utr, h2Cds, h2Arrows, [], 30, 48, -1, '#5a5d5e');
drawTracks(byId('hMarks'), xH2, HY, [4365,4500,4635,4770,4905,5040], 1527, 2138, h3Input, h3InputScale, h3CkPeak, h3DroPeak, h3PeakScale, '#8a8a8a');
drawGene(byId('hMarks'), xH2, 5101, h3Utr, h3Cds, h3Arrows, [], 30, 48, -1, '#5a5d5e');
drawTracks(byId('hMarks'), xH2, HY, [4361,4498,4637,4774,4911,5049], 2227, 3007, h4Input, h4InputScale, h4CkPeak, h4DroPeak, h4PeakScale, '#8a8a8a');
drawGene(byId('hMarks'), xH2, 5104, h4Utr, h4Cds, h4Arrows, [], 30, 48, 1, '#5a5d5e');
drawTracks(byId('hMarks'), xH2, HY, [4353,4495,4638,4780,4922,5065], 3049, 3741, h5Input, h5InputScale, h5CkPeak, h5DroPeak, h5PeakScale, '#8a8a8a');
drawGene(byId('hMarks'), xH2, 5108, h5Utr, h5Cds, h5Arrows, [], 30, 48, 1, '#5a5d5e');
</script>
</body>
</html>
